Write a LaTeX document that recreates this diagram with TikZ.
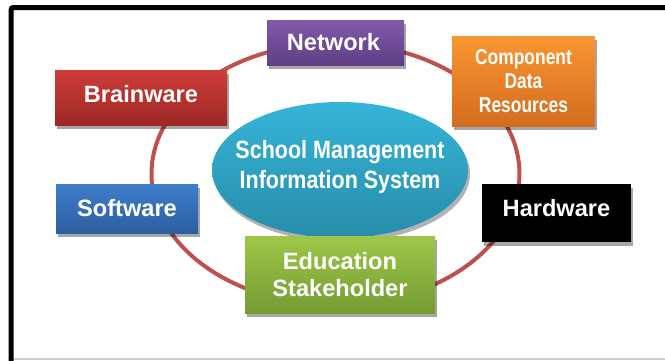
\documentclass[tikz,border=0pt]{standalone}
\usepackage{fontspec}
\setmainfont{Liberation Sans}
\newfontfamily\narrowsans[FakeStretch=0.86]{Liberation Sans}
\newfontfamily\tightsans[FakeStretch=0.81]{Liberation Sans}
\usetikzlibrary{shapes.geometric,shadows}

\definecolor{ringred}{RGB}{192,80,77}
\definecolor{netTop}{RGB}{128,90,170}
\definecolor{netBot}{RGB}{94,62,133}
\definecolor{brainTop}{RGB}{206,60,56}
\definecolor{brainBot}{RGB}{158,40,38}
\definecolor{compTop}{RGB}{248,150,50}
\definecolor{compBot}{RGB}{212,108,30}
\definecolor{hubTop}{RGB}{53,181,216}
\definecolor{hubBot}{RGB}{40,140,170}
\definecolor{softTop}{RGB}{62,126,204}
\definecolor{softBot}{RGB}{44,94,160}
\definecolor{eduTop}{RGB}{158,199,73}
\definecolor{eduBot}{RGB}{117,155,50}
\definecolor{edgegray}{RGB}{205,205,205}

\tikzset{
  panel/.style={rectangle, draw=none, inner sep=0pt,
    drop shadow={shadow xshift=1.5pt, shadow yshift=-4pt, opacity=0.35, fill=black}},
  hubshape/.style={ellipse, draw=none, inner sep=0pt,
    drop shadow={shadow xshift=2pt, shadow yshift=-4pt, opacity=0.3, fill=black}},
  wide/.style={text=white, inner sep=0pt, align=center,
    font=\bfseries\fontsize{23.6}{27.3}\selectfont},
  hubtext/.style={text=white, inner sep=0pt, align=center,
    font=\narrowsans\bfseries\fontsize{25}{30.7}\selectfont},
  comptext/.style={text=white, inner sep=0pt, align=center,
    font=\tightsans\bfseries\fontsize{21.5}{24.2}\selectfont},
  ring/.style={draw=ringred, line width=4pt},
}

\begin{document}
\begin{tikzpicture}[x=1pt,y=-1pt]
  \useasboundingbox (0,0) rectangle (665,360);

  % page frame
  \draw[line width=5pt, rounded corners=2pt] (667,7.5) -- (11.2,7.5) -- (11.2,362);
  \draw[edgegray, line width=1.5pt] (14,359.2) -- (667,359.2);

  % ring linking the components
  \coordinate (ringc) at (335.5,174);
  \draw[ring] (ringc) ellipse [x radius=184pt, y radius=131pt];

  % central system
  \node[hubshape, top color=hubTop, bottom color=hubBot,
        minimum width=256pt, minimum height=136pt] (hub) at (340,170) {};
  \node[hubtext] (hub-t) at ([yshift=3pt]hub.center) {School Management\\Information System};

  % surrounding components
  \node[panel, top color=netTop, bottom color=netBot,
        minimum width=137pt, minimum height=45pt] (net) at (335.5,42.5) {};
  \node[wide] (net-t) at ([xshift=-2pt]net.center) {Network};

  \node[panel, top color=brainTop, bottom color=brainBot,
        minimum width=172pt, minimum height=55pt] (brain) at (141,97.5) {};
  \node[wide] (brain-t) at ([yshift=3.5pt]brain.center) {Brainware};

  \node[panel, top color=compTop, bottom color=compBot,
        minimum width=143pt, minimum height=90pt] (comp) at (523.5,81) {};
  \node[comptext] (comp-t) at (comp.center) {Component\\Data\\Resources};

  \node[panel, top color=softTop, bottom color=softBot,
        minimum width=142pt, minimum height=49pt] (soft) at (127,208.5) {};
  \node[wide] (soft-t) at (soft.center) {Software};

  \node[panel, fill=black,
        minimum width=149pt, minimum height=58pt] (hard) at (556.5,213) {};
  \node[wide] (hard-t) at ([yshift=5pt]hard.center) {Hardware};

  \node[panel, top color=eduTop, bottom color=eduBot,
        minimum width=190pt, minimum height=77pt] (edu) at (340,274.5) {};
  \node[wide] (edu-t) at (edu.center) {Education\\Stakeholder};
\end{tikzpicture}
\end{document}
